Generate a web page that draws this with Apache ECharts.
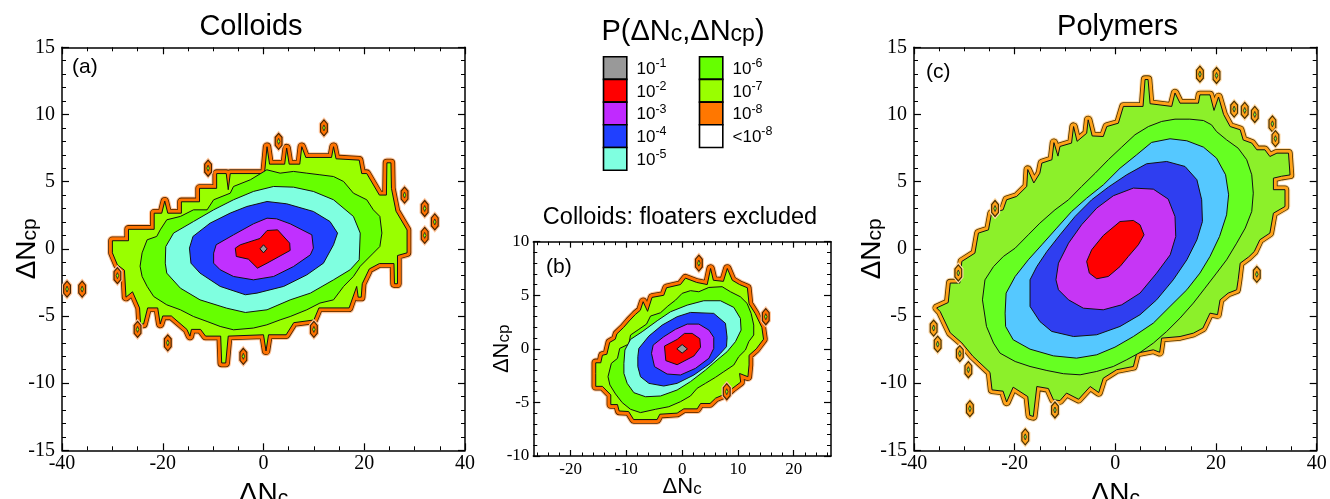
<!DOCTYPE html>
<html><head><meta charset="utf-8">
<script src="https://cdn.jsdelivr.net/npm/echarts@6/dist/echarts.min.js"></script>
<style>html,body{margin:0;padding:0;background:#fff}#chart{width:1330px;height:499px}</style>
</head><body><div id="chart"></div>
<script>
// ---------------- DATA ----------------
// Panel titles
const panelTitles = ['Colloids', 'Colloids: floaters excluded', 'Polymers'];
const panelTags = ['(a)', '(b)', '(c)'];
// Legend levels
const legendLabels = ['10^-1','10^-2','10^-3','10^-4','10^-5','10^-6','10^-7','10^-8','<10^-8'];
// Tick values
const ticksXac = [-40, -20, 0, 20, 40];
const ticksYac = [-15, -10, -5, 0, 5, 10, 15];
const ticksXb = [-20, -10, 0, 10, 20];
const ticksYb = [-10, -5, 0, 5, 10];

// ---- Panel (a) Colloids: contour polygons [ΔNc, ΔNcp], outermost first ----
const aOuter = [[-30,-0.3],[-30,0.6],[-26.8,0.6],[-26.8,1.45],[-21.7,1.45],[-21.7,2.65],[-20.2,2.65],[-19.6,3.55],[-19.0,2.65],[-16.3,2.65],[-16.3,3.5],[-12.7,3.5],[-12.7,4.5],[-9.3,4.5],[-9.3,5.6],[-7.4,5.6],[-7.0,4.4],[-6.6,5.6],[0.2,5.6],[0.7,7.6],[1.2,6.3],[4.2,6.3],[4.6,7.5],[5.1,6.3],[7.2,6.3],[7.6,7.6],[8.4,6.8],[13.5,6.8],[13.9,7.6],[14.4,6.7],[19.0,6.6],[19.5,5.6],[20.5,5.6],[23.0,4.0],[24.4,4.0],[24.5,6.4],[25.3,6.4],[25.4,4.5],[26.3,2.8],[28.5,1.4],[28.5,-0.3],[26.6,-0.5],[26.6,-2.6],[26.0,-2.6],[25.9,-1.1],[23.0,-1.1],[21.0,-1.5],[19.6,-2.6],[19.4,-3.6],[18.8,-3.6],[18.5,-2.8],[17.0,-4.4],[11.0,-4.4],[10.0,-5.3],[6.0,-5.5],[4.5,-6.4],[1.0,-6.4],[0.5,-7.6],[0.0,-6.4],[-7.0,-6.5],[-7.5,-8.5],[-8.3,-8.5],[-8.5,-6.5],[-11.5,-6.5],[-12.5,-6.0],[-14.3,-6.0],[-14.6,-6.5],[-15.2,-6.0],[-18.3,-5.0],[-20.0,-5.0],[-20.5,-5.6],[-21.0,-4.4],[-23.0,-4.4],[-23.8,-5.6],[-24.4,-5.6],[-24.6,-4.4],[-26.0,-3.2],[-27.3,-3.6],[-27.6,-1.6],[-29.0,-1.2]];
const aGreen = [[-24.5,-1.3],[-24.1,-0.3],[-23.1,0.67],[-21.2,0.92],[-20.5,1.41],[-19.2,2.16],[-16.5,2.41],[-13.9,2.9],[-11.2,2.9],[-9.9,3.65],[-6.6,4.14],[-5.95,4.64],[-2.6,5.14],[0.66,5.88],[3.3,5.63],[5.95,5.76],[8.6,5.63],[11.2,5.51],[13.9,5.38],[15.9,5.01],[17.85,4.14],[20.5,3.65],[21.8,2.9],[23.1,2.41],[23.5,1.17],[23.1,0.17],[21.8,-0.32],[19.2,-1.3],[17.85,-2.06],[15.9,-2.8],[13.9,-3.8],[11.2,-4.04],[8.6,-4.54],[5.3,-5.04],[3.3,-5.29],[0.66,-5.66],[-2.0,-5.9],[-5.95,-6.03],[-8.6,-5.78],[-11.2,-5.41],[-13.9,-5.04],[-16.5,-4.54],[-19.2,-4.17],[-21.8,-3.55],[-23.1,-2.8],[-24.1,-2.06]];
const aCyan = [[-19.4,0.17],[-19.5,-1.07],[-19.2,-1.81],[-16.5,-2.93],[-12.6,-3.8],[-7.3,-4.42],[-3.6,-4.74],[0.7,-4.54],[5.3,-3.8],[9.3,-3.3],[13.9,-2.31],[17.2,-1.56],[19.0,-0.82],[19.2,1.17],[17.85,2.41],[13.9,3.65],[9.9,4.27],[5.95,4.59],[2.0,4.64],[-2.0,4.27],[-5.95,3.65],[-9.9,2.9],[-13.9,2.03],[-17.85,1.17]];
const aBlue = [[-14.7,0.05],[-14.4,-1.07],[-12.6,-1.81],[-8.6,-2.8],[-3.6,-3.42],[-1.3,-3.3],[4.0,-2.8],[8.6,-1.94],[11.9,-1.07],[13.9,0.3],[14.7,1.17],[13.2,2.03],[9.9,2.78],[4.6,3.35],[0.7,3.52],[-3.3,3.15],[-6.6,2.66],[-10.6,1.91],[-14.0,0.92]];
const aPurple = [[-9.9,-0.32],[-9.9,-1.07],[-8.6,-1.56],[-5.95,-2.06],[-2.0,-2.31],[2.0,-2.06],[5.95,-1.32],[9.3,-0.45],[9.9,0.05],[9.6,1.04],[5.3,1.86],[2.6,2.23],[0.7,2.28],[-2.0,1.86],[-5.95,1.04],[-9.4,0.3]];
const aRed = [[-5.6,0.05],[-5.4,-0.57],[-3.0,-0.77],[-1.2,-1.44],[0.7,-1.07],[5.3,-0.12],[5.2,0.42],[2.8,1.41],[0.7,1.36],[-0.7,0.77],[-4.6,0.3]];
const aGray = [[-0.7,0],[0,0.3],[0.7,0],[0,-0.3]];
const aIslands = [[12,9],[3,8],[-11,6],[28,4],[32,3],[34,2],[32,1],[-29,-2],[-39,-3],[-36,-3],[-25,-6],[-19,-7],[-4,-8],[10,-6]];

// ---- Panel (b) Colloids, floaters excluded ----
const bOuter = [[-15.5,-2.3],[-15.5,-3.5],[-14.3,-3.5],[-12.8,-4.3],[-12.8,-5.2],[-11.6,-5.2],[-11.3,-5.8],[-9.6,-5.85],[-8.7,-6.6],[-4.5,-6.6],[-4.0,-6.1],[-0.9,-6.0],[0.3,-5.6],[2.7,-5.6],[3.3,-5.1],[5.0,-5.1],[6.0,-4.6],[8.0,-4.15],[9.0,-3.7],[10.5,-3.1],[10.3,-2.3],[11.8,-2.6],[12.0,-1.5],[12.0,-0.6],[13.3,0.0],[14.6,0.9],[14.3,2.0],[13.1,3.3],[12.0,4.2],[11.7,5.7],[10.3,6.0],[9.0,6.4],[8.1,7.5],[7.4,6.3],[5.6,6.4],[5.1,7.5],[4.5,6.0],[2.6,6.2],[0.6,6.6],[-0.3,6.0],[-2.8,5.7],[-3.3,5.0],[-5.4,4.8],[-6.2,3.5],[-7.0,4.4],[-7.5,3.6],[-8.4,3.2],[-9.5,2.6],[-10.5,2.0],[-11.7,1.4],[-12.0,0.9],[-13.0,0.6],[-13.5,-0.5],[-14.3,-0.6],[-14.6,-1.3],[-15.5,-1.3]];
const bGreen = [[-13.3,-2.6],[-12.7,-1.35],[-11.6,-0.89],[-11.2,0.04],[-9.56,0.45],[-9.26,1.29],[-7.77,1.82],[-6.39,2.31],[-5.67,3.06],[-3.88,3.37],[-2.57,3.99],[-1.19,4.55],[0,5.18],[1.49,5.43],[2.99,5.33],[4.78,5.73],[7.17,5.8],[8.66,5.33],[10.45,4.86],[11.65,4.24],[12.37,3.31],[12.84,2.22],[12.84,1.29],[11.95,0.67],[11.35,-0.11],[10.15,-0.73],[9.26,-1.51],[7.47,-2.13],[5.97,-2.66],[4.18,-3.22],[2.69,-3.68],[1.49,-4.4],[-0.3,-4.93],[-2.39,-5.4],[-4.78,-5.64],[-7.47,-5.95],[-9.26,-5.64],[-10.75,-5.02],[-11.95,-4.21],[-12.96,-3.37]];
const bCyan = [[-10.45,-1.35],[-10.27,-0.11],[-9.26,0.88],[-7.17,1.6],[-4.48,2.62],[-2.09,3.46],[0.9,4.08],[3.88,4.49],[6.87,4.49],[9.26,3.87],[10.45,2.84],[10.57,1.75],[9.56,0.67],[8.06,-0.27],[6.27,-1.04],[4.18,-1.98],[1.49,-3.06],[-0.9,-3.84],[-3.88,-4.4],[-6.57,-4.47],[-8.66,-4.09],[-9.86,-3.22],[-10.45,-2.29]];
const bBlue = [[-7.95,-0.73],[-7.77,0.04],[-5.97,1.19],[-3.58,2.22],[-0.9,3.0],[1.5,3.4],[5.67,3.31],[7.77,2.38],[8.06,1.07],[7.95,0.2],[6.87,-0.42],[5.08,-1.35],[2.1,-2.44],[-0.9,-3.22],[-3.3,-3.47],[-5.97,-3.22],[-7.47,-2.6],[-7.95,-1.66]];
const bPurple = [[-5.5,-0.42],[-4.96,-1.66],[-2.7,-2.35],[-0.3,-2.44],[2.4,-1.82],[4.8,-0.88],[5.67,0.04],[5.67,1.07],[4.8,1.75],[3.0,2.31],[0.9,2.31],[-1.2,1.82],[-3.3,1.13],[-5.2,0.35]];
const bRed = [[-3.17,0.26],[-2.93,-1.1],[-0.9,-1.48],[2.1,-0.67],[3.3,0.14],[3.17,0.95],[1.8,1.44],[0.42,1.44],[-0.9,0.88]];
const bGray = [[-0.95,0],[0,0.4],[0.95,0],[0,-0.4]];
const bIslands = [[3,8],[15,3],[8,-4]];

// ---- Panel (c) Polymers ----
const cOuter = [[-35.5,-4.4],[-33.2,-4.0],[-32.8,-2.55],[-30.9,-2.55],[-30.5,-0.94],[-27.9,-0.32],[-27.2,1.17],[-25.2,1.41],[-24.6,2.65],[-22.3,2.9],[-21.6,3.65],[-19.6,3.9],[-17.6,4.64],[-17.4,5.9],[-16.2,4.9],[-15.0,5.63],[-14.6,6.38],[-12.6,6.63],[-12.2,7.9],[-11.4,6.9],[-11.0,7.62],[-8.7,7.87],[-8.3,9.1],[-7.6,8.0],[-5.7,8.6],[-5.4,9.6],[-4.6,8.4],[-2.4,8.36],[-1.7,9.1],[0.6,9.35],[1.6,10.6],[5.5,10.6],[5.9,12.6],[6.5,12.6],[6.9,10.8],[11.2,10.6],[11.85,11.6],[12.85,10.84],[16.5,10.84],[16.8,11.46],[18.8,11.46],[19.6,10.3],[20.5,11.3],[21.5,10.0],[22.8,9.1],[24.8,8.86],[25.4,8.1],[27.1,7.87],[28.1,7.37],[29.7,7.37],[30.7,6.87],[32.1,7.12],[34.4,7.12],[34.7,5.5],[33.0,5.4],[31.4,5.26],[31.4,4.4],[33.7,4.4],[33.7,3.15],[31.4,2.65],[30.7,1.17],[28.7,0.67],[27.6,-0.2],[26.5,-0.6],[24.8,-1.07],[24.4,-2.3],[24.1,-3.05],[22.4,-3.3],[20.8,-3.8],[20.3,-4.9],[18.8,-4.79],[17.4,-5.9],[15.5,-6.28],[12.85,-6.53],[9.2,-6.65],[8.8,-7.7],[7.55,-7.52],[4.24,-7.77],[3.58,-8.76],[0.26,-9.0],[-2.4,-9.63],[-3.3,-10.7],[-5.0,-10.25],[-7.3,-11.2],[-9.7,-10.74],[-11.0,-11.3],[-12.3,-11.24],[-13.3,-10.4],[-15.6,-10.25],[-16.3,-12.48],[-17.0,-12.4],[-17.4,-11.0],[-20.3,-10.3],[-21.6,-11.4],[-22.3,-10.6],[-24.5,-10.5],[-24.9,-9.2],[-28.3,-8.0],[-30.5,-7.0],[-32.8,-6.25],[-34.8,-4.67]];
const cGreen = [[-26.4,-3.8],[-25.9,-2.31],[-24.2,-1.32],[-22.25,-0.57],[-19.9,0.05],[-17.3,1.04],[-15.0,1.91],[-12.0,2.9],[-9.3,3.65],[-6.7,4.64],[-4.0,5.63],[-1.4,6.63],[1.26,7.57],[3.9,8.49],[6.56,9.1],[9.2,9.48],[11.85,9.65],[14.8,9.65],[17.5,9.55],[19.1,9.23],[20.1,8.73],[22.1,8.11],[24.4,7.49],[26.1,6.63],[27.1,5.51],[27.4,4.14],[27.1,2.78],[25.8,1.54],[24.1,0.42],[22.1,-0.82],[20.1,-1.81],[17.8,-2.93],[15.5,-4.04],[12.85,-5.16],[10.2,-6.15],[7.55,-7.02],[4.9,-7.72],[2.25,-8.26],[-0.4,-8.76],[-3.7,-9.13],[-7.0,-9.38],[-10.3,-9.3],[-13.6,-9.06],[-16.95,-8.76],[-19.9,-8.39],[-22.9,-7.77],[-24.2,-7.02],[-25.6,-5.78]];
const cLightBlue = [[-21.8,-5.78],[-21.9,-4.79],[-21.7,-3.3],[-19.9,-2.06],[-17.3,-0.82],[-14.6,0.3],[-11.65,1.54],[-8.68,2.78],[-5.7,3.77],[-2.38,4.76],[0.93,6.0],[4.24,7.0],[7.2,7.92],[10.86,8.19],[14.2,8.04],[17.5,7.57],[20.1,6.75],[21.9,5.51],[22.5,4.02],[22.1,2.53],[20.7,0.92],[18.8,-0.57],[16.8,-1.81],[14.2,-3.05],[10.86,-4.29],[7.55,-5.53],[3.58,-6.53],[-0.07,-7.32],[-3.7,-7.89],[-7.7,-8.14],[-12.3,-7.97],[-16.95,-7.47],[-20.3,-6.77]];
const cBlue = [[-16.95,-4.29],[-16.95,-2.31],[-15.6,-1.32],[-13.6,-0.2],[-11.0,1.04],[-8.0,2.41],[-4.7,3.65],[-1.4,4.59],[2.25,5.51],[6.2,6.33],[10.2,6.5],[13.84,6.13],[16.2,5.14],[17.15,3.65],[17.3,2.03],[16.2,0.67],[14.2,-0.82],[11.5,-2.31],[8.2,-3.8],[4.9,-4.91],[0.93,-5.78],[-3.7,-6.4],[-8.3,-6.53],[-12.65,-6.15],[-15.0,-5.41]];
const cPurple = [[-11.8,-2.31],[-11.3,-1.07],[-9.3,0.42],[-6.7,1.79],[-3.7,3.03],[-0.4,3.95],[3.58,4.52],[7.55,4.44],[10.5,3.7],[11.85,2.41],[12.0,0.92],[10.9,-0.45],[8.2,-1.81],[4.9,-3.3],[1.26,-4.17],[-2.4,-4.54],[-6.36,-4.42],[-9.3,-3.8],[-11.3,-3.05]];
const cRed = [[-5.7,-0.94],[-4.7,-0.07],[-2.4,0.99],[0.93,2.03],[3.58,2.11],[4.9,1.79],[5.7,1.04],[4.57,0.3],[2.58,-0.57],[0.93,-1.32],[-1.4,-2.06],[-3.7,-2.23],[-5.17,-1.81]];
const cIslands = [[16.8,13],[20.1,12.9],[23.6,10.4],[25.7,10.3],[27.7,10.0],[31.2,9.3],[31.8,8.2],[28.1,-1.9],[-23.9,3.0],[-31.2,-1.8],[-30.9,-7.8],[-29.2,-9.0],[-28.9,-11.9],[-12.0,-12.0],[-17.9,-14.0],[-36.1,-5.9],[-35.3,-7.1]];

// ---------------- STYLE ----------------
const colA = ['#99ff00','#66ff00','#7fffe0','#2040ff','#c030ff','#ff0000','#999999'];
const colC = ['#8cf02a','#66ff22','#55c8ff','#2f3ef0','#c636f5','#ff0000'];
const bandA = {fill:'#ff7300', edge:'#4a2400', halo:'#ffc69c', dot:'#99ff00'};
const bandC = {fill:'#ffa31a', edge:'#4a3000', halo:'#ffdba8', dot:'#8cf02a'};
const legendFill = ['#999999','#ff0000','#c02aff','#2040ff','#7fffe0','#66ff00','#99ff00','#ff7700','#ffffff'];

const SERIF = '"Liberation Serif", "Times New Roman", Times, serif';
const SANS = '"Liberation Sans", Arial, Helvetica, sans-serif';

function contourSeries(xi, yi, polys, fills, band) {
  return {
    type: 'custom', coordinateSystem: 'cartesian2d', xAxisIndex: xi, yAxisIndex: yi,
    clip: true, silent: true, animation: false,
    data: polys.map((p, i) => [p[0][0], p[0][1], i]),
    renderItem: function (params, api) {
      const i = api.value(2);
      const pts = polys[i].map(p => api.coord(p));
      if (i === 0) {
        return {type: 'group', children: [
          {type: 'polygon', shape: {points: pts}, style: {fill: 'none', stroke: band.halo, lineWidth: 10.5, lineJoin: 'round'}},
          {type: 'polygon', shape: {points: pts}, style: {fill: 'none', stroke: band.edge, lineWidth: 8.4, lineJoin: 'round'}},
          {type: 'polygon', shape: {points: pts}, style: {fill: 'none', stroke: band.fill, lineWidth: 6.8, lineJoin: 'round'}},
          {type: 'polygon', shape: {points: pts}, style: {fill: fills[0], stroke: '#111', lineWidth: 1, lineJoin: 'round'}}
        ]};
      }
      return {type: 'polygon', shape: {points: pts}, style: {fill: fills[i], stroke: '#111', lineWidth: 1, lineJoin: 'round'}};
    }
  };
}
function islandSeries(xi, yi, isl, band) {
  const hex = [[0,-8],[3.4,-4],[3.4,4],[0,8],[-3.4,4],[-3.4,-4]];
  const dot = [[0,-3],[1.3,0],[0,3],[-1.3,0]];
  return {
    type: 'custom', coordinateSystem: 'cartesian2d', xAxisIndex: xi, yAxisIndex: yi,
    clip: true, silent: true, animation: false,
    data: isl,
    renderItem: function (params, api) {
      const c = api.coord([api.value(0), api.value(1)]);
      const h = hex.map(d => [c[0] + d[0], c[1] + d[1]]);
      const d2 = dot.map(d => [c[0] + d[0], c[1] + d[1]]);
      return {type: 'group', children: [
        {type: 'polygon', shape: {points: h}, style: {fill: band.fill, stroke: band.halo, lineWidth: 3.5}},
        {type: 'polygon', shape: {points: h}, style: {fill: band.fill, stroke: band.edge, lineWidth: 1.2}},
        {type: 'polygon', shape: {points: d2}, style: {fill: band.dot, stroke: '#222', lineWidth: 0.8}}
      ]};
    }
  };
}

// rich text: main glyphs + lowered, slightly smaller subscript
const nameRich = (big, small) => ({
  m: {fontFamily: SANS, fontSize: big, lineHeight: big, color: '#000'},
  s: {fontFamily: SANS, fontSize: small, lineHeight: Math.round(big / 2), verticalAlign: 'bottom', color: '#000'}
});
const line = {show: true, onZero: false, lineStyle: {color: '#000', width: 1.5}};
const noLine = {show: false, onZero: false};

function xAxes(gi, min, max, interval, minorSplit, fs, gap, nameSize) {
  const lab = {fontFamily: SERIF, fontSize: fs, color: '#000', margin: 3, showMinLabel: true, showMaxLabel: true, hideOverlap: false};
  const common = {gridIndex: gi, type: 'value', min: min, max: max, interval: interval, axisLine: line,
    axisTick: {show: true, inside: true, length: 7, lineStyle: {color: '#000', width: 1.2}},
    minorTick: {show: true, inside: true, splitNumber: minorSplit, length: 4, lineStyle: {color: '#000', width: 1}},
    splitLine: {show: false}, minorSplitLine: {show: false}};
  return [
    Object.assign({}, common, {position: 'bottom', axisLabel: lab, name: '{m|ΔN}{s|c}', nameLocation: 'middle', nameGap: gap,
      nameMoveOverlap: false, nameTextStyle: {rich: nameRich(nameSize, Math.round(nameSize * 0.76))}}),
    Object.assign({}, common, {position: 'top', axisLabel: {show: false}})
  ];
}
function yAxes(gi, min, max, interval, minorSplit, fs, margin, gap, nameSize) {
  const lab = {fontFamily: SERIF, fontSize: fs, color: '#000', margin: margin, showMinLabel: true, showMaxLabel: true, hideOverlap: false};
  const common = {gridIndex: gi, type: 'value', min: min, max: max, interval: interval, axisLine: line,
    axisTick: {show: true, inside: true, length: 7, lineStyle: {color: '#000', width: 1.2}},
    minorTick: {show: true, inside: true, splitNumber: minorSplit, length: 4, lineStyle: {color: '#000', width: 1}},
    splitLine: {show: false}, minorSplitLine: {show: false}};
  return [
    Object.assign({}, common, {position: 'left', axisLabel: lab, name: '{m|ΔN}{s|cp}', nameLocation: 'middle', nameGap: gap,
      nameMoveOverlap: false, nameTextStyle: {rich: nameRich(nameSize, Math.round(nameSize * 0.76))}}),
    Object.assign({}, common, {position: 'right', axisLabel: {show: false}})
  ];
}

// panel (b) x axis uses explicit tick values since its range is not a multiple of 10
const bMinorX = [];
for (let v = -26; v <= 26; v += 2) if (ticksXb.indexOf(v) < 0) bMinorX.push(v);
const bXmin = -26.7, bXmax = 26.7;
const bX = {gridIndex: 1, type: 'value', min: bXmin, max: bXmax, splitLine: {show: false}};
const xAxisList = [].concat(
  xAxes(0, ticksXac[0], ticksXac[ticksXac.length - 1], 20, 4, 20, 30, 28),
  [
    Object.assign({}, bX, {position: 'bottom', axisLine: line,
      axisTick: {show: true, inside: true, length: 6, customValues: ticksXb, lineStyle: {color: '#000', width: 1.2}},
      axisLabel: {customValues: ticksXb, fontFamily: SERIF, fontSize: 17, color: '#000', margin: 5},
      name: '{m|ΔN}{s|c}', nameLocation: 'middle', nameGap: 20, nameMoveOverlap: false, nameTextStyle: {rich: nameRich(22, 17)}}),
    Object.assign({}, bX, {position: 'top', axisLine: line, axisLabel: {show: false},
      axisTick: {show: true, inside: true, length: 6, customValues: ticksXb, lineStyle: {color: '#000', width: 1.2}}}),
    Object.assign({}, bX, {position: 'bottom', axisLine: noLine, axisLabel: {show: false},
      axisTick: {show: true, inside: true, length: 3.5, customValues: bMinorX, lineStyle: {color: '#000', width: 1}}}),
    Object.assign({}, bX, {position: 'top', axisLine: noLine, axisLabel: {show: false},
      axisTick: {show: true, inside: true, length: 3.5, customValues: bMinorX, lineStyle: {color: '#000', width: 1}}})
  ],
  xAxes(2, ticksXac[0], ticksXac[ticksXac.length - 1], 20, 4, 20, 30, 28)
);
const yAxisList = [].concat(
  yAxes(0, ticksYac[0], ticksYac[ticksYac.length - 1], 5, 5, 20, 7, 21, 28),
  yAxes(1, ticksYb[0], ticksYb[ticksYb.length - 1], 5, 5, 17, 4, 20, 22),
  yAxes(2, ticksYac[0], ticksYac[ticksYac.length - 1], 5, 5, 20, 7, 28, 28)
);

// legend graphics
const legendGraphics = [];
legendLabels.forEach((lab, i) => {
  const col = i < 5 ? 0 : 1;
  const row = i < 5 ? i : i - 5;
  const x = col === 0 ? 603.5 : 699.5;
  const y = 56.7 + row * 22.7;
  legendGraphics.push({type: 'rect', shape: {x: x, y: y, width: 23.3, height: 22.7},
    style: {fill: legendFill[i], stroke: '#000', lineWidth: 1.6}, z: 10});
  const parts = lab.split('^');
  legendGraphics.push({type: 'text', x: x + 33, y: y + 12.5, z: 10, style: {
    text: '{b|' + parts[0] + '}{p|' + parts[1] + '}', textVerticalAlign: 'middle', textAlign: 'left',
    rich: {b: {fontFamily: SANS, fontSize: 17, lineHeight: 24, color: '#000'},
           p: {fontFamily: SANS, fontSize: 12.5, lineHeight: 12, verticalAlign: 'top', color: '#000'}}}});
});

const textG = (txt, x, y, size, align) => ({type: 'text', x: x, y: y, z: 10, style: {
  text: txt, fontFamily: SANS, fontSize: size, fill: '#000', textAlign: align || 'center', textVerticalAlign: 'middle'}});

const option = {
  animation: false,
  backgroundColor: '#ffffff',
  grid: [
    {left: 62, top: 47.3, width: 403, height: 403, containLabel: false, outerBoundsMode: 'none'},
    {left: 533.3, top: 241.7, width: 297.7, height: 214.3, containLabel: false, outerBoundsMode: 'none'},
    {left: 914, top: 47.3, width: 402.7, height: 403, containLabel: false, outerBoundsMode: 'none'}
  ],
  xAxis: xAxisList,
  yAxis: yAxisList,
  series: [
    contourSeries(0, 0, [aOuter, aGreen, aCyan, aBlue, aPurple, aRed, aGray], colA, bandA),
    islandSeries(0, 0, aIslands, bandA),
    contourSeries(2, 2, [bOuter, bGreen, bCyan, bBlue, bPurple, bRed, bGray], colA, bandA),
    islandSeries(2, 2, bIslands, bandA),
    contourSeries(6, 4, [cOuter, cGreen, cLightBlue, cBlue, cPurple, cRed], colC, bandC),
    islandSeries(6, 4, cIslands, bandC)
  ],
  graphic: [
    textG(panelTitles[0], 251, 27, 29),
    textG(panelTitles[2], 1117.5, 27, 29),
    textG(panelTitles[1], 680, 217.5, 23.5),
    textG(panelTags[0], 72, 67, 21, 'left'),
    textG(panelTags[1], 546, 267.5, 21, 'left'),
    textG(panelTags[2], 926, 72, 21, 'left'),
    {type: 'text', x: 683, y: 32, z: 10, style: {
      text: '{m|P(ΔN}{s|c}{m|,ΔN}{s|cp}{m|)}', textAlign: 'center', textVerticalAlign: 'middle',
      rich: nameRich(29, 23)}}
  ].concat(legendGraphics)
};

const chart = echarts.init(document.getElementById('chart'), null, {renderer: 'canvas'});
chart.setOption(option);
</script></body></html>
